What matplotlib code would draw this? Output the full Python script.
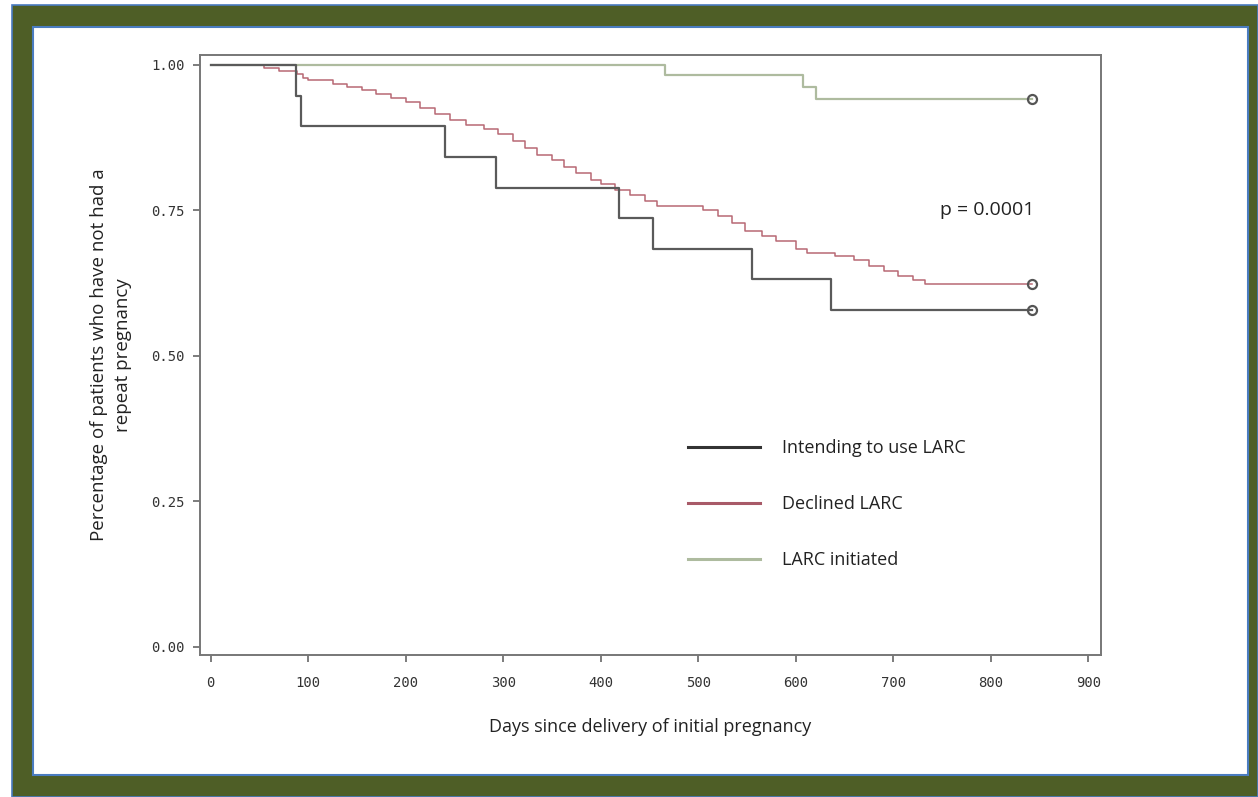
import matplotlib
matplotlib.use("Agg")
import matplotlib.pyplot as plt
from matplotlib.patches import Rectangle
from matplotlib.lines import Line2D

# ---- data ----
intend_days = [0, 87, 93, 240, 293, 419, 454, 555, 636]
intend_surv = [1.0, 0.947, 0.895, 0.842, 0.789, 0.737, 0.684, 0.632, 0.579]
intend_end = 842

declined_days = [0, 55, 70, 88, 95, 100, 125, 140, 155, 170, 185, 200, 215, 230,
                 245, 262, 280, 295, 310, 322, 335, 350, 362, 375, 390, 400, 415,
                 430, 445, 458, 505, 520, 535, 548, 565, 580, 600, 612, 640, 660,
                 675, 690, 705, 720, 732]
declined_surv = [1.0, 0.995, 0.990, 0.985, 0.977, 0.974, 0.968, 0.962, 0.957, 0.950,
                 0.943, 0.936, 0.926, 0.915, 0.905, 0.897, 0.889, 0.881, 0.870, 0.858,
                 0.846, 0.836, 0.824, 0.815, 0.803, 0.795, 0.785, 0.776, 0.766, 0.757,
                 0.750, 0.740, 0.728, 0.714, 0.706, 0.697, 0.684, 0.677, 0.672, 0.664,
                 0.655, 0.645, 0.638, 0.630, 0.624]
declined_end = 842

initiated_days = [0, 466, 607, 621]
initiated_surv = [1.0, 0.983, 0.962, 0.942]
initiated_end = 842

series_labels = ["Intending to use LARC", "Declined LARC", "LARC initiated"]
x_ticks = [0, 100, 200, 300, 400, 500, 600, 700, 800, 900]
y_ticks = [0.0, 0.25, 0.5, 0.75, 1.0]
y_tick_labels = ["0.00", "0.25", "0.50", "0.75", "1.00"]
p_text = "p = 0.0001"

W, H = 1258, 797
fig = plt.figure(figsize=(W / 100, H / 100), dpi=100)

def fr(x0, y0, x1, y1):
    return (x0 / W, 1 - y1 / H), (x1 - x0) / W, (y1 - y0) / H

# frame
xy, w, h = fr(12, 5, 1258, 797)
fig.patches.append(Rectangle(xy, w, h, transform=fig.transFigure, facecolor="#4e5e26",
                             edgecolor="#4a7cc0", linewidth=1.2, zorder=0))
xy, w, h = fr(33, 27, 1248, 775)
fig.patches.append(Rectangle(xy, w, h, transform=fig.transFigure, facecolor="white",
                             edgecolor="#4a7cc0", linewidth=1.5, zorder=1))

ax = fig.add_axes([200 / W, 1 - 655 / H, 901 / W, 600 / H])
ax.set_facecolor("white")
ax.set_zorder(2)

c_int, c_dec, c_ini = "#5a5a5a", "#b86874", "#aebb9f"

def km(days, surv, end, color, lw, label):
    xs = list(days) + [end]
    ys = list(surv) + [surv[-1]]
    ax.step(xs, ys, where="post", color=color, lw=lw, label=label)
    ax.plot([end], [surv[-1]], marker="o", mfc="none", mec="#555555", mew=1.6, ms=6.5,
            linestyle="none")

km(initiated_days, initiated_surv, initiated_end, c_ini, 1.6, series_labels[2])
km(declined_days, declined_surv, declined_end, c_dec, 1.1, series_labels[1])
km(intend_days, intend_surv, intend_end, c_int, 1.6, series_labels[0])

ax.set_xlim(-11, 913)
ax.set_ylim(-0.014, 1.017)
ax.set_xticks(x_ticks)
ax.set_yticks(y_ticks)
ax.set_yticklabels(y_tick_labels)
mono = "DejaVu Sans Mono"
for lab in ax.get_xticklabels() + ax.get_yticklabels():
    lab.set_fontfamily(mono)
    lab.set_fontsize(10)
    lab.set_color("#333333")
ax.tick_params(direction="out", length=5, width=1.2, color="#666666", pad=6)
ax.tick_params(axis="x", pad=10)
for s in ax.spines.values():
    s.set_color("#777777")
    s.set_linewidth(1.4)

tf = "Open Sans"
ax.set_xlabel("Days since delivery of initial pregnancy", fontfamily=tf, fontsize=13,
              color="#222222", labelpad=20)
ax.set_ylabel("Percentage of patients who have not had a\nrepeat pregnancy", fontfamily=tf,
              fontsize=13.5, color="#222222", labelpad=14, linespacing=1.4)

ax.text(796, 0.75, p_text, fontfamily=tf, fontsize=14, color="#222222",
        ha="center", va="center")

handles = [Line2D([], [], color="#333333", lw=2.2),
           Line2D([], [], color="#a85a68", lw=2.2),
           Line2D([], [], color="#aebb9f", lw=2.2)]
leg = ax.legend(handles, series_labels, loc="upper left",
                bbox_to_anchor=(688 / W, 1 - 439 / H), bbox_transform=fig.transFigure,
                frameon=False, prop={"family": tf, "size": 13}, handlelength=4.0,
                handletextpad=1.2, labelspacing=2.1, borderpad=0, borderaxespad=0)
for t in leg.get_texts():
    t.set_color("#222222")

fig.savefig("out.png", dpi=100)
